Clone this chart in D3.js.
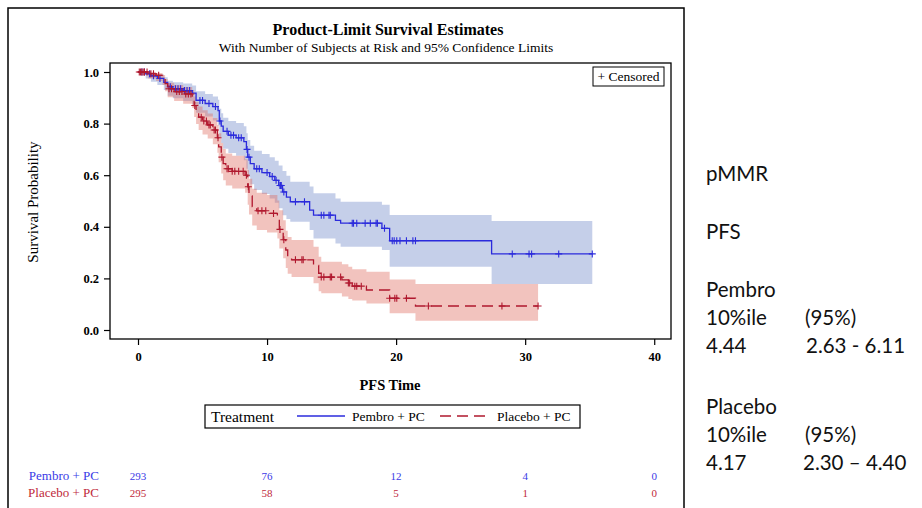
<!DOCTYPE html>
<html>
<head>
<meta charset="utf-8">
<script src="https://cdn.jsdelivr.net/npm/d3@7"></script>
<style>
  body { margin: 0; background: #fff; }
  svg { display: block; }
</style>
</head>
<body>
<div id="chart"></div>
<script>
// Pembro + PC : step times, KM estimate, 95% limits, censor times
const pembroTime  = [0, 0.6, 1.0, 1.5, 2.0, 2.3, 2.7, 3.5, 4.2, 4.5, 5.2, 5.8, 6.2, 6.3, 6.45, 6.6, 7.0, 7.6, 8.2, 8.4, 8.5, 8.7, 9.0, 9.6, 10.2, 10.6, 10.9, 11.2, 11.5, 11.8, 13.3, 13.6, 15.3, 15.7, 18.9, 19.5, 27.4];
const pembroSurv  = [1.0, 0.993, 0.985, 0.975, 0.96, 0.943, 0.935, 0.928, 0.918, 0.89, 0.878, 0.866, 0.85, 0.81, 0.79, 0.77, 0.755, 0.745, 0.73, 0.70, 0.67, 0.645, 0.625, 0.61, 0.595, 0.58, 0.56, 0.535, 0.515, 0.497, 0.465, 0.445, 0.425, 0.414, 0.394, 0.346, 0.295];
const pembroLower = [1.0, 0.975, 0.962, 0.950, 0.930, 0.908, 0.898, 0.888, 0.875, 0.842, 0.828, 0.812, 0.793, 0.748, 0.725, 0.703, 0.686, 0.675, 0.658, 0.625, 0.592, 0.565, 0.543, 0.527, 0.510, 0.493, 0.472, 0.445, 0.430, 0.420, 0.388, 0.355, 0.335, 0.323, 0.310, 0.245, 0.178];
const pembroUpper = [1.0, 1.0, 0.995, 0.990, 0.980, 0.966, 0.960, 0.955, 0.948, 0.925, 0.915, 0.905, 0.892, 0.858, 0.840, 0.823, 0.810, 0.802, 0.790, 0.763, 0.736, 0.714, 0.695, 0.682, 0.670, 0.656, 0.638, 0.616, 0.598, 0.575, 0.556, 0.530, 0.510, 0.497, 0.485, 0.446, 0.422];
const pembroEnd = 35.2;
const pembroCensor = [0.3, 0.5, 0.9, 1.2, 1.7, 2.5, 2.9, 3.1, 3.3, 3.6, 3.8, 4.0, 4.8, 5.0, 5.5, 6.0, 6.35, 6.9, 7.2, 7.4, 7.8, 8.0, 8.45, 8.6, 9.2, 9.4, 10.0, 10.4, 10.7, 11.0, 11.05, 11.1, 11.3, 12.2, 12.9, 14.2, 14.4, 14.8, 14.9, 16.6, 16.7, 16.95, 17.6, 18.0, 18.45, 18.55, 19.1, 19.7, 19.85, 20.05, 20.3, 20.8, 21.3, 21.5, 29.0, 30.3, 30.5, 32.6, 35.2];

// Placebo + PC
const placeboTime  = [0, 0.8, 1.4, 1.9, 2.1, 2.3, 2.8, 3.5, 4.2, 4.35, 4.5, 4.7, 5.0, 5.4, 5.8, 6.15, 6.25, 6.45, 6.6, 6.8, 7.3, 8.3, 8.5, 8.6, 8.85, 9.2, 10.0, 10.8, 10.95, 11.25, 11.45, 11.6, 11.9, 13.6, 14.0, 14.2, 15.8, 16.3, 16.6, 17.7, 19.5, 21.5];
const placeboSurv  = [1.0, 0.993, 0.987, 0.975, 0.955, 0.935, 0.924, 0.915, 0.90, 0.87, 0.845, 0.825, 0.81, 0.795, 0.775, 0.745, 0.71, 0.67, 0.645, 0.625, 0.615, 0.60, 0.555, 0.52, 0.478, 0.462, 0.452, 0.43, 0.39, 0.35, 0.31, 0.285, 0.272, 0.25, 0.22, 0.205, 0.194, 0.182, 0.17, 0.155, 0.123, 0.093];
const placeboLower = [1.0, 0.975, 0.965, 0.950, 0.925, 0.902, 0.888, 0.877, 0.860, 0.826, 0.798, 0.775, 0.758, 0.742, 0.720, 0.687, 0.650, 0.607, 0.580, 0.560, 0.548, 0.532, 0.485, 0.448, 0.405, 0.388, 0.378, 0.355, 0.316, 0.278, 0.240, 0.218, 0.205, 0.181, 0.150, 0.142, 0.130, 0.120, 0.114, 0.103, 0.065, 0.036];
const placeboUpper = [1.0, 1.0, 0.996, 0.988, 0.973, 0.958, 0.950, 0.942, 0.930, 0.905, 0.884, 0.866, 0.852, 0.839, 0.822, 0.795, 0.763, 0.725, 0.702, 0.684, 0.675, 0.662, 0.620, 0.586, 0.547, 0.532, 0.523, 0.502, 0.464, 0.425, 0.385, 0.360, 0.349, 0.323, 0.284, 0.265, 0.255, 0.245, 0.235, 0.226, 0.196, 0.178];
const placeboEnd = 31.0;
const placeboCensor = [0.1, 0.2, 0.3, 0.4, 0.5, 0.7, 1.0, 1.2, 1.6, 2.4, 2.6, 3.0, 3.2, 3.4, 3.7, 3.9, 4.1, 4.4, 4.9, 5.1, 5.3, 5.5, 5.6, 5.9, 6.0, 6.2, 6.5, 6.9, 7.0, 7.3, 7.5, 7.8, 8.15, 8.4, 8.55, 9.3, 9.6, 9.9, 10.5, 11.0, 11.3, 12.2, 12.7, 12.8, 14.2, 14.4, 14.9, 15.0, 15.7, 16.3, 16.4, 16.8, 16.95, 17.3, 19.5, 19.9, 20.05, 20.8, 22.5, 28.2, 31.0];

const groupNames = ['Pembro + PC', 'Placebo + PC'];
const atRiskTimes = [0, 10, 20, 30, 40];
const pembroAtRisk = [293, 76, 12, 4, 0];
const placeboAtRisk = [295, 58, 5, 1, 0];
const xTicks = [0, 10, 20, 30, 40];
const yTicks = [0, 0.2, 0.4, 0.6, 0.8, 1.0];

const sideNotes = [
  ['pMMR'], ['PFS'],
  ['Pembro'], ['10%ile', '(95%)'], ['4.44', '2.63 - 6.11'],
  ['Placebo'], ['10%ile', '(95%)'], ['4.17', '2.30 \u2013 4.40']
];

const BLUE = '#2b2bdc', RED = '#b0182e';
const serif = '"Liberation Serif", "Times New Roman", serif';

const svg = d3.select('#chart').append('svg')
  .attr('width', 922).attr('height', 508)
  .style('font-family', serif);

svg.append('rect').attr('width', 922).attr('height', 508).attr('fill', '#fff');

// outer frame
svg.append('rect')
  .attr('x', 8).attr('y', 8).attr('width', 676).attr('height', 520)
  .attr('fill', 'none').attr('stroke', '#000').attr('stroke-width', 1.5);

const x = d3.scaleLinear().domain([-2.17, 41.3]).range([110, 671]);
const y = d3.scaleLinear().domain([0, 1]).range([330, 72]);
const plotTop = 63, plotBottom = 339;

const buildSteps = (time, surv, lower, upper, end) => {
  const rows = time.map((t, i) => ({ t, s: surv[i], lo: lower[i], hi: upper[i] }));
  const last = rows[rows.length - 1];
  rows.push({ t: end, s: last.s, lo: last.lo, hi: last.hi });
  return rows;
};

const groups = [
  { name: groupNames[0], color: BLUE, band: 'rgb(110,135,200)', dash: null,
    steps: buildSteps(pembroTime, pembroSurv, pembroLower, pembroUpper, pembroEnd),
    censor: pembroCensor, atRisk: pembroAtRisk },
  { name: groupNames[1], color: RED, band: 'rgb(222,105,92)', dash: '11,6',
    steps: buildSteps(placeboTime, placeboSurv, placeboLower, placeboUpper, placeboEnd),
    censor: placeboCensor, atRisk: placeboAtRisk }
];

const survAt = (steps, t) => {
  let s = steps[0].s;
  steps.forEach(d => { if (d.t <= t) s = d.s; });
  return s;
};

const area = d3.area().curve(d3.curveStepAfter)
  .x(d => x(d.t)).y0(d => y(d.lo)).y1(d => y(d.hi));
const line = d3.line().curve(d3.curveStepAfter)
  .x(d => x(d.t)).y(d => y(d.s));

const plot = svg.append('g');

groups.forEach(g => {
  plot.append('path').datum(g.steps)
    .attr('d', area).attr('fill', g.band).attr('fill-opacity', 0.4);
});
groups.forEach(g => {
  plot.append('path').datum(g.steps)
    .attr('d', line).attr('fill', 'none')
    .attr('stroke', g.color).attr('stroke-width', 1.3)
    .attr('stroke-dasharray', g.dash);
  const c = 3.5;
  plot.append('g').selectAll('path').data(g.censor).join('path')
    .attr('d', t => {
      const cx = x(t), cy = y(survAt(g.steps, t));
      return `M${cx - c},${cy}H${cx + c}M${cx},${cy - c}V${cy + c}`;
    })
    .attr('stroke', g.color).attr('stroke-width', 1.1);
});

// plot frame
svg.append('rect')
  .attr('x', 110).attr('y', plotTop).attr('width', 561).attr('height', plotBottom - plotTop)
  .attr('fill', 'none').attr('stroke', '#000').attr('stroke-width', 1.3);

// axes
const yAxis = svg.append('g').attr('transform', 'translate(110,0)')
  .call(d3.axisLeft(y).tickValues(yTicks).tickFormat(d3.format('.1f')).tickSize(6).tickPadding(5));
const xAxis = svg.append('g').attr('transform', `translate(0,${plotBottom})`)
  .call(d3.axisBottom(x).tickValues(xTicks).tickSize(6).tickPadding(7));
[yAxis, xAxis].forEach(a => {
  a.select('.domain').remove();
  a.selectAll('line').attr('stroke', '#000').attr('stroke-width', 1.2);
  a.selectAll('text').attr('fill', '#000')
    .style('font-family', serif).style('font-size', '12.5px').style('font-weight', 'bold');
});

// titles
svg.append('text').attr('x', 388).attr('y', 35).attr('text-anchor', 'middle')
  .style('font-size', '16px').style('font-weight', 'bold')
  .text('Product-Limit Survival Estimates');
svg.append('text').attr('x', 386).attr('y', 52).attr('text-anchor', 'middle')
  .style('font-size', '13.5px')
  .text('With Number of Subjects at Risk and 95% Confidence Limits');

svg.append('text')
  .attr('transform', 'translate(38,202) rotate(-90)').attr('text-anchor', 'middle')
  .style('font-size', '15px').text('Survival Probability');
svg.append('text').attr('x', 390).attr('y', 390).attr('text-anchor', 'middle')
  .style('font-size', '14.5px').style('font-weight', 'bold').text('PFS Time');

// censored legend
svg.append('rect').attr('x', 593).attr('y', 67).attr('width', 71).attr('height', 19)
  .attr('fill', '#fff').attr('stroke', '#000').attr('stroke-width', 1);
svg.append('text').attr('x', 628.5).attr('y', 81).attr('text-anchor', 'middle')
  .style('font-size', '13.5px').text('+ Censored');

// treatment legend
const lg = svg.append('g');
lg.append('rect').attr('x', 205).attr('y', 405).attr('width', 375).attr('height', 23)
  .attr('fill', '#fff').attr('stroke', '#000').attr('stroke-width', 1.2);
lg.append('text').attr('x', 211).attr('y', 422).style('font-size', '15.5px').text('Treatment');
const legendPos = [{ x1: 297, x2: 345, tx: 352 }, { x1: 440, x2: 487, tx: 497 }];
groups.forEach((g, i) => {
  const p = legendPos[i];
  lg.append('line').attr('x1', p.x1).attr('x2', p.x2).attr('y1', 416).attr('y2', 416)
    .attr('stroke', g.color).attr('stroke-width', 1.3).attr('stroke-dasharray', g.dash);
  lg.append('text').attr('x', p.tx).attr('y', 421).style('font-size', '13.5px').text(g.name);
});

// at risk table
const riskY = [480, 497];
groups.forEach((g, i) => {
  const col = i === 0 ? '#3a3ae6' : '#c0283a';
  svg.append('text').attr('x', 99).attr('y', riskY[i]).attr('text-anchor', 'end')
    .attr('fill', col).style('font-size', '13px').text(g.name);
  svg.append('g').selectAll('text').data(atRiskTimes).join('text')
    .attr('x', d => x(d)).attr('y', riskY[i]).attr('text-anchor', 'middle')
    .attr('fill', col).style('font-size', '11px')
    .text((d, k) => g.atRisk[k]);
});

// side notes
const noteY = [181, 239, 297, 325, 353, 414, 442, 470];
const noteX2 = [null, null, null, 805, 806, null, 805, 803];
const notes = svg.append('g').style('font-family', 'Lato, "Open Sans", sans-serif')
  .style('font-size', '20.5px').attr('fill', '#111');
sideNotes.forEach((row, i) => {
  notes.append('text').attr('x', 706).attr('y', noteY[i]).text(row[0]);
  if (row[1]) notes.append('text').attr('x', noteX2[i]).attr('y', noteY[i]).text(row[1]);
});
</script>
</body>
</html>
